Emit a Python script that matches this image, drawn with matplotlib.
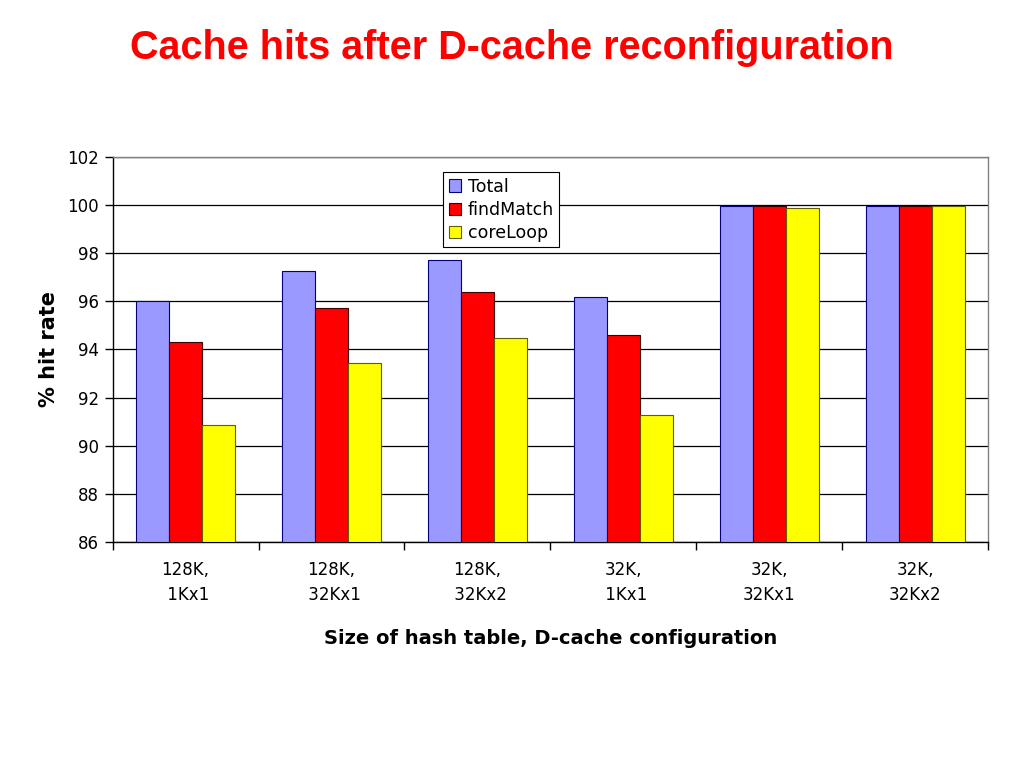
import matplotlib
matplotlib.use("Agg")
import matplotlib.pyplot as plt
from matplotlib import font_manager as fm
import numpy as np

categories = ["128K,\n 1Kx1", "128K,\n 32Kx1", "128K,\n 32Kx2", "32K,\n 1Kx1", "32K,\n32Kx1", "32K,\n32Kx2"]
series_names = ["Total", "findMatch", "coreLoop"]
total = [96.02, 97.27, 97.70, 96.18, 99.95, 99.95]
findmatch = [94.33, 95.73, 96.40, 94.60, 99.95, 99.95]
coreloop = [90.88, 93.44, 94.48, 91.27, 99.86, 99.95]
colors = ["#9999FF", "#FF0000", "#FFFF00"]
edges = ["#000080", "#400000", "#606000"]
yticks = [86, 88, 90, 92, 94, 96, 98, 100, 102]

fig = plt.figure(figsize=(10.24, 7.68), dpi=100)
ax = fig.add_axes([0.110, 0.2943, 0.855, 0.5013])

x = np.arange(len(categories))
w = 0.226
for i, (vals, name) in enumerate(zip([total, findmatch, coreloop], series_names)):
    ax.bar(x + (i - 1) * w, [v - 86 for v in vals], width=w, bottom=86, color=colors[i],
           edgecolor=edges[i], linewidth=0.8, label=name, zorder=3)

ax.set_xlim(-0.5, len(categories) - 0.5)
ax.set_ylim(86, 102)
ax.set_yticks(yticks)
ax.set_yticklabels([str(t) for t in yticks], fontsize=12, family="DejaVu Sans")
ax.yaxis.grid(True, color="#000000", linewidth=0.9, zorder=0)
ax.set_axisbelow(True)

ax.set_xticks(x)
ax.set_xticklabels(categories, fontsize=12, family="DejaVu Sans", linespacing=1.45)
ax.set_xticks(np.arange(-0.5, len(categories)), minor=True)
ax.tick_params(axis="x", which="major", length=0, pad=14)
ax.tick_params(axis="x", which="minor", length=6, width=1, direction="out")
ax.tick_params(axis="y", length=6, width=1, direction="out", pad=4)

for s in ["top", "right"]:
    ax.spines[s].set_color("#808080")
    ax.spines[s].set_linewidth(1)
for s in ["left", "bottom"]:
    ax.spines[s].set_color("#000000")
    ax.spines[s].set_linewidth(1)

ax.set_xlabel("Size of hash table, D-cache configuration", fontsize=14, fontweight="bold",
              family="DejaVu Sans", labelpad=18)
ax.set_ylabel("% hit rate", fontsize=15, fontweight="bold", family="DejaVu Sans", labelpad=6)

leg = ax.legend(loc="upper right", bbox_to_anchor=(0.510, 0.960), fontsize=12.5, frameon=True,
                fancybox=False, edgecolor="#000000", framealpha=1, borderpad=0.3,
                handlelength=0.7, handleheight=0.7, handletextpad=0.4, labelspacing=0.3,
                borderaxespad=0)
leg.get_frame().set_linewidth(0.8)
for t in leg.get_texts():
    t.set_family("DejaVu Sans")

title_fp = fm.FontProperties(family="Liberation Sans", weight="bold", stretch="normal", size=28.5)
try:
    path = fm.findfont(title_fp)
    if "Narrow" in path:
        cands = [f.fname for f in fm.fontManager.ttflist
                 if f.name == "Liberation Sans" and f.weight in ("bold", 700) and "Narrow" not in f.fname
                 and f.style == "normal"]
        if cands:
            title_fp = fm.FontProperties(fname=cands[0], size=28.5)
except Exception:
    pass

fig.text(0.5, 0.938, "Cache hits after D-cache reconfiguration", ha="center", va="center",
         fontproperties=title_fp, color="#FF0000")

fig.savefig("out.png", dpi=100)
